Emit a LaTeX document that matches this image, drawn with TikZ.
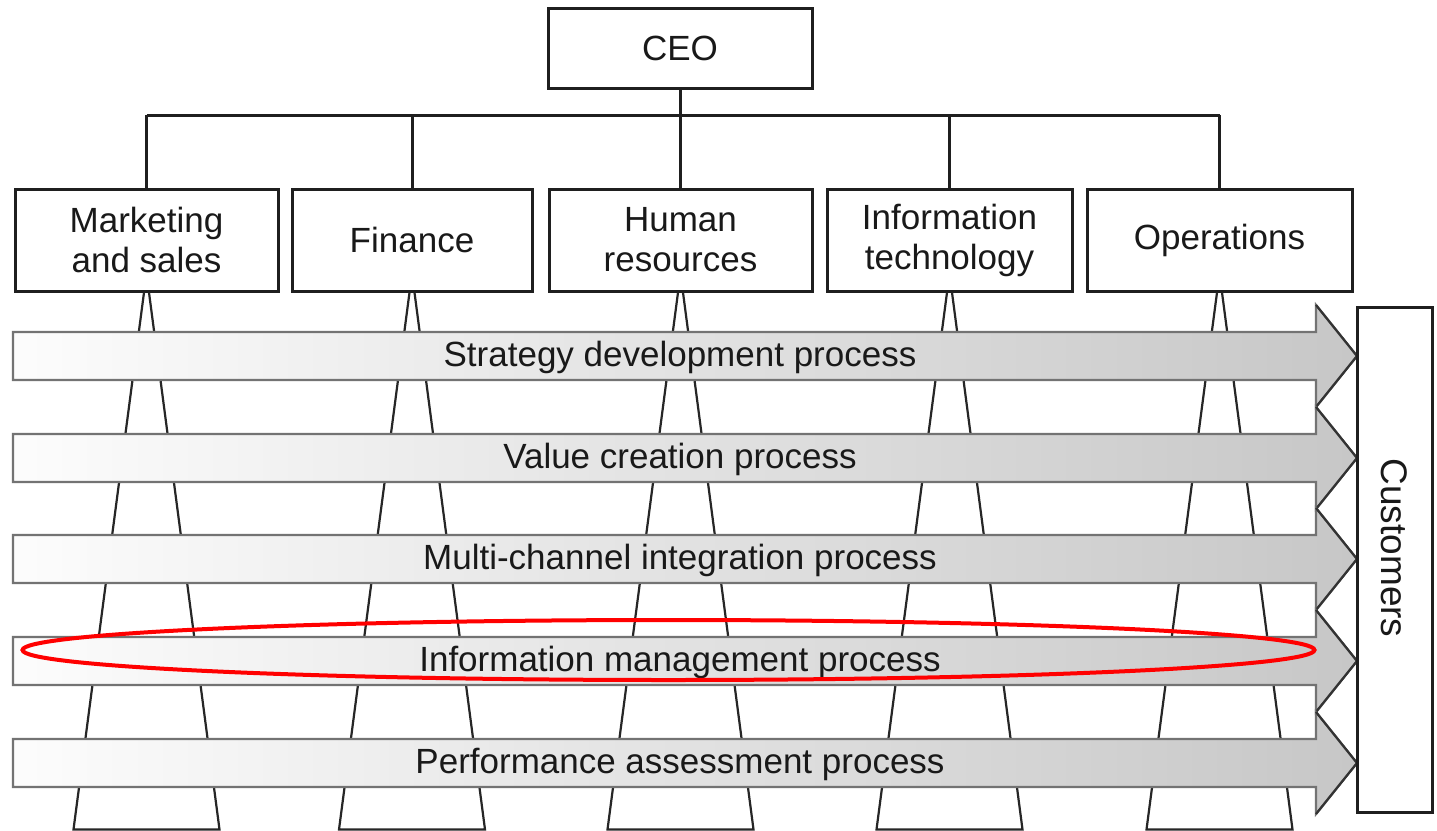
\documentclass[tikz,border=0pt]{standalone}
\usepackage{fontspec}
\setmainfont{Liberation Sans}
\newcommand\lblfont{\fontsize{35}{40}\selectfont}
\newcommand\custfont{\fontsize{37}{40}\selectfont}
\begin{document}
\begin{tikzpicture}[x=1pt,y=-1pt,
  box/.style={draw=black!88, line width=3pt, fill=white, align=center, inner sep=0pt, font=\lblfont, text=black!90},
  conn/.style={draw=black!88, line width=3pt},
  trap/.style={draw=black!85, line width=2.2pt},
  procarrow/.style={left color=black!1, right color=black!22, draw=black!55, line width=2.2pt},
  headline/.style={draw=black!80, line width=2.2pt},
  lbl/.style={font=\lblfont, text=black!90, inner sep=0pt},
  highlight/.style={draw=red, line width=4pt}]
\useasboundingbox[fill=white] (0,0) rectangle (1437,830);

% organisation chart
\node[box, minimum width=264, minimum height=80] (ceo) at (680,48) {CEO};
\node[box, minimum width=263, minimum height=102] (mkt) at (146.5,240) {Marketing\\and sales};
\node[box, minimum width=240, minimum height=102] (fin) at (412,240) {Finance};
\node[box, minimum width=263, minimum height=102] (hr) at (680.5,240) {Human\\resources};
\node[box, minimum width=245, minimum height=102] (it) at (949.5,240) {Information\\technology};
\node[box, minimum width=265, minimum height=102] (ops) at (1219.5,240) {Operations};

\coordinate (bus) at (680,115);
\draw[conn] (ceo.south) -- (bus);
\draw[conn] (mkt.north |- bus) -- (ops.north |- bus);
\foreach \d in {mkt,fin,hr,it,ops}
  \draw[conn] (\d.north) -- (\d.north |- bus);

% widening trapezoids behind the processes
\foreach \d in {mkt,fin,hr,it,ops}
  \draw[trap] ([xshift=-2.5pt]\d.south) -- ++(-70.5,537) -- ++(146,0) -- ([xshift=2.5pt]\d.south);

% process arrows
\foreach \i/\y/\t in {1/356/Strategy development process,
                      2/458/Value creation process,
                      3/559/Multi-channel integration process,
                      4/661/Information management process,
                      5/763/Performance assessment process}{
  \shadedraw[procarrow] (13,\y-24) -- (1316,\y-24) -- (1316,\y-51) -- (1357,\y)
     -- (1316,\y+51) -- (1316,\y+24) -- (13,\y+24) -- cycle;
  \draw[headline] (1316,\y-51) -- (1357,\y) -- (1316,\y+51);
  \node[lbl] (p\i) at (680,\y+1) {\t};
}

% customers
\node[box, rotate=-90, minimum width=505, minimum height=75] (cust) at (1394.5,559.5) {};
\node[lbl, rotate=-90, font=\custfont] (custlbl) at (1394.5,548) {Customers};

% highlight
\draw[highlight] (668.5,650) ellipse [x radius=646pt, y radius=30pt];
\end{tikzpicture}
\end{document}
